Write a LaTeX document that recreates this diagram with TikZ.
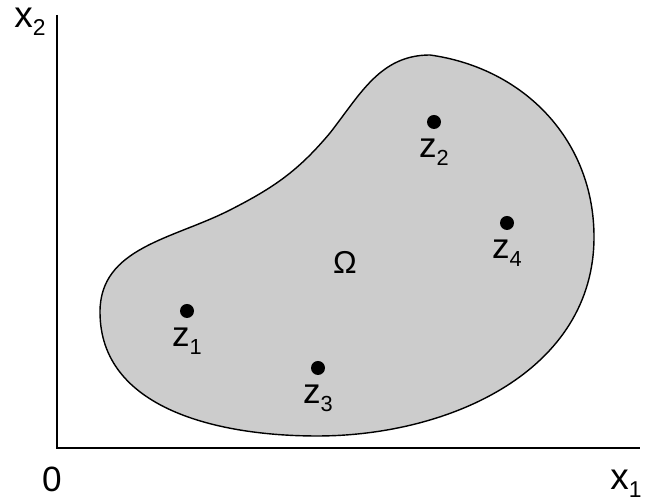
\documentclass[tikz,border=0pt]{standalone}
\usepackage{fontspec}
\setmainfont{Liberation Sans}
\newcommand\lowidx[1]{\raisebox{-0.2em}{\scalebox{0.62}{#1}}}
\begin{document}
\begin{tikzpicture}[
  axis/.style={line width=1.1pt},
  region/.style={fill=black!20, draw=black, line width=0.8pt},
  dot/.style={circle, fill=black, inner sep=0pt, minimum size=0.28cm},
  ptlabel/.style={anchor=base, font=\fontsize{20}{24}\selectfont},
  axlabel/.style={anchor=base west, inner sep=0pt, font=\fontsize{21}{25}\selectfont}]
 \useasboundingbox (0,0) rectangle (12.98,10);
 % the region Omega
 \draw[region] (8.6,8.9) to[out=-8,in=90] (11.88,5.26)
   to[out=-90,in=0] (6.34,1.28)
   to[out=180,in=-90] (2.0,3.76)
   to[out=90,in=207] (4.6,5.8)
   to[out=27,in=230] (6.6,7.34)
   to[out=52,in=180] cycle;
 % axes
 \coordinate (O) at (1.14,1.04);
 \coordinate (ytop) at (1.14,9.7);
 \coordinate (xend) at (12.8,1.04);
 \draw[axis] (ytop) -- (O) -- (xend);
 \node[axlabel] (x2lbl) at (0.28,9.44) {x\lowidx{2}};
 \node[axlabel] (x1lbl) at (12.2,0.2) {x\lowidx{1}};
 \node[ptlabel] (origin) at (1.04,0.16) {0};
 % points
 \node[dot] (z1) at (3.74,3.78) {};
 \node[dot] (z2) at (8.68,7.56) {};
 \node[dot] (z3) at (6.36,2.64) {};
 \node[dot] (z4) at (10.14,5.54) {};
 \node[ptlabel] (z1lbl) at ([yshift=-0.72cm]z1) {z\lowidx{1}};
 \node[ptlabel] (z2lbl) at ([yshift=-0.72cm]z2) {z\lowidx{2}};
 \node[ptlabel] (z3lbl) at ([yshift=-0.72cm]z3) {z\lowidx{3}};
 \node[ptlabel] (z4lbl) at ([yshift=-0.72cm]z4) {z\lowidx{4}};
 \node[font=\fontsize{18}{22}\selectfont] (omega) at (6.9,4.76) {Ω};
\end{tikzpicture}
\end{document}
